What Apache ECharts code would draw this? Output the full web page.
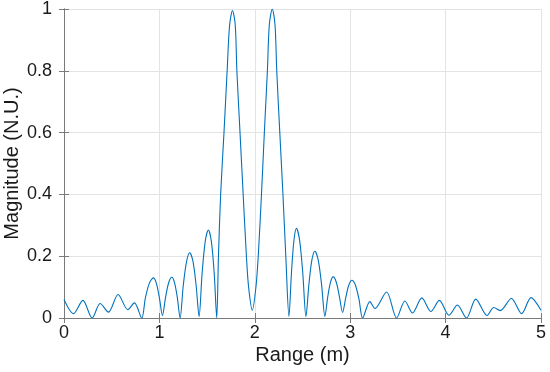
<!DOCTYPE html>
<html>
<head>
<meta charset="utf-8">
<script src="https://cdn.jsdelivr.net/npm/echarts@6/dist/echarts.min.js"></script>
<style>
  html, body { margin: 0; padding: 0; background: #fff; }
  #chart { width: 550px; height: 372px; }
</style>
</head>
<body>
<div id="chart"></div>
<script>
// Range (m) sample positions
var rangeM = [
  0.00, 0.10, 0.198, 0.295, 0.379, 0.466, 0.567, 0.669, 0.738, 0.815,
  0.853, 0.895, 0.937, 0.968, 1.000, 1.032,
  1.064, 1.097, 1.130, 1.159, 1.188, 1.217,
  1.25, 1.285, 1.318, 1.352, 1.385, 1.416,
  1.447, 1.48, 1.513, 1.545, 1.575, 1.601,
  1.619, 1.642, 1.677, 1.710, 1.736, 1.766, 1.795, 1.812, 1.845, 1.878, 1.912, 1.935,
  1.974,
  2.012, 2.036, 2.070, 2.100, 2.132, 2.152, 2.183, 2.212, 2.230, 2.262, 2.295, 2.325,
  2.358, 2.384, 2.410, 2.437, 2.470, 2.503, 2.536,
  2.567, 2.598, 2.630, 2.665, 2.700, 2.735,
  2.764, 2.793, 2.822, 2.855, 2.888, 2.920,
  2.953, 2.985, 3.018, 3.055, 3.092, 3.130,
  3.206, 3.259, 3.381, 3.486, 3.573, 3.653, 3.751, 3.845, 3.935,
  4.035, 4.124, 4.219, 4.316, 4.435, 4.505, 4.572, 4.69, 4.797, 4.895, 5.0
];
// Normalised magnitude at those positions
var magnitude = [
  0.060, 0.014, 0.057, 0.000, 0.047, 0.019, 0.076, 0.027, 0.049, 0.000,
  0.065, 0.113, 0.130, 0.113, 0.065, 0.008,
  0.066, 0.114, 0.132, 0.114, 0.066, 0.000,
  0.105, 0.183, 0.211, 0.183, 0.105, 0.005,
  0.142, 0.247, 0.285, 0.247, 0.142, 0.000,
  0.200, 0.400, 0.600, 0.800, 0.948, 0.995, 0.948, 0.800, 0.600, 0.400, 0.200, 0.100,
  0.025,
  0.100, 0.200, 0.400, 0.600, 0.800, 0.948, 1.000, 0.948, 0.800, 0.600, 0.400, 0.200,
  0.005, 0.145, 0.251, 0.290, 0.251, 0.145, 0.005,
  0.108, 0.187, 0.216, 0.187, 0.108, 0.005,
  0.067, 0.115, 0.133, 0.115, 0.067, 0.018,
  0.065, 0.106, 0.122, 0.106, 0.061, 0.000,
  0.053, 0.031, 0.084, 0.000, 0.055, 0.016, 0.065, 0.021, 0.057,
  0.009, 0.042, 0.000, 0.061, 0.008, 0.034, 0.024, 0.063, 0.014, 0.066, 0.025
];
var xTicks = [0, 1, 2, 3, 4, 5];
var yTicks = [0, 0.2, 0.4, 0.6, 0.8, 1];
var xTitle = 'Range (m)';
var yTitle = 'Magnitude (N.U.)';

var seriesData = rangeM.map(function (x, i) { return [x, magnitude[i]]; });

var FONT = 'Liberation Sans, Arial, Helvetica, sans-serif';
var axisCol = '#7a7a7a';
var textCol = '#1a1a1a';

var chart = echarts.init(document.getElementById('chart'), null, { renderer: 'canvas' });
chart.setOption({
  animation: false,
  backgroundColor: '#ffffff',
  grid: { left: 64, right: 9, top: 9, bottom: 54, containLabel: false, outerBoundsMode: 'none' },
  xAxis: [{
    type: 'value', min: xTicks[0], max: xTicks[xTicks.length - 1], interval: 1,
    name: xTitle, nameLocation: 'middle', nameGap: 27, nameMoveOverlap: false,
    nameTextStyle: { fontFamily: FONT, fontSize: 20, color: textCol },
    axisLine: { show: true, lineStyle: { color: axisCol, width: 1 } },
    axisTick: { show: true, inside: true, length: 5, lineStyle: { color: axisCol } },
    axisLabel: { fontFamily: FONT, fontSize: 18, color: textCol, margin: 6,
      formatter: function (v) { return xTicks.indexOf(v) >= 0 ? String(v) : ''; } },
    splitLine: { show: true, lineStyle: { color: '#e3e3e3', width: 1 } }
  }, {
    type: 'value', position: 'top', min: xTicks[0], max: xTicks[xTicks.length - 1], interval: 1,
    axisLine: { show: true, lineStyle: { color: axisCol, width: 1 } },
    axisTick: { show: true, inside: true, length: 5, lineStyle: { color: axisCol } },
    axisLabel: { show: false }, splitLine: { show: false }
  }],
  yAxis: [{
    type: 'value', min: yTicks[0], max: yTicks[yTicks.length - 1], interval: 0.2,
    name: yTitle, nameLocation: 'middle', nameGap: 42, nameMoveOverlap: false,
    nameTextStyle: { fontFamily: FONT, fontSize: 20, color: textCol },
    axisLine: { show: true, lineStyle: { color: axisCol, width: 1 } },
    axisTick: { show: true, inside: true, length: 5, lineStyle: { color: axisCol } },
    axisLabel: { fontFamily: FONT, fontSize: 18, color: textCol, margin: 12,
      formatter: function (v) { return String(Math.round(v * 10) / 10); } },
    splitLine: { show: true, lineStyle: { color: '#e3e3e3', width: 1 } }
  }, {
    type: 'value', position: 'right', min: yTicks[0], max: yTicks[yTicks.length - 1], interval: 0.2,
    axisLine: { show: true, lineStyle: { color: axisCol, width: 1 } },
    axisTick: { show: true, inside: true, length: 5, lineStyle: { color: axisCol } },
    axisLabel: { show: false }, splitLine: { show: false }
  }],
  series: [{
    type: 'line',
    xAxisIndex: 0, yAxisIndex: 0,
    data: seriesData,
    showSymbol: false,
    smooth: 0.3,
    lineStyle: { color: '#0072BD', width: 1.1 },
    itemStyle: { color: '#0072BD' },
    clip: true
  }]
});
</script>
</body>
</html>
